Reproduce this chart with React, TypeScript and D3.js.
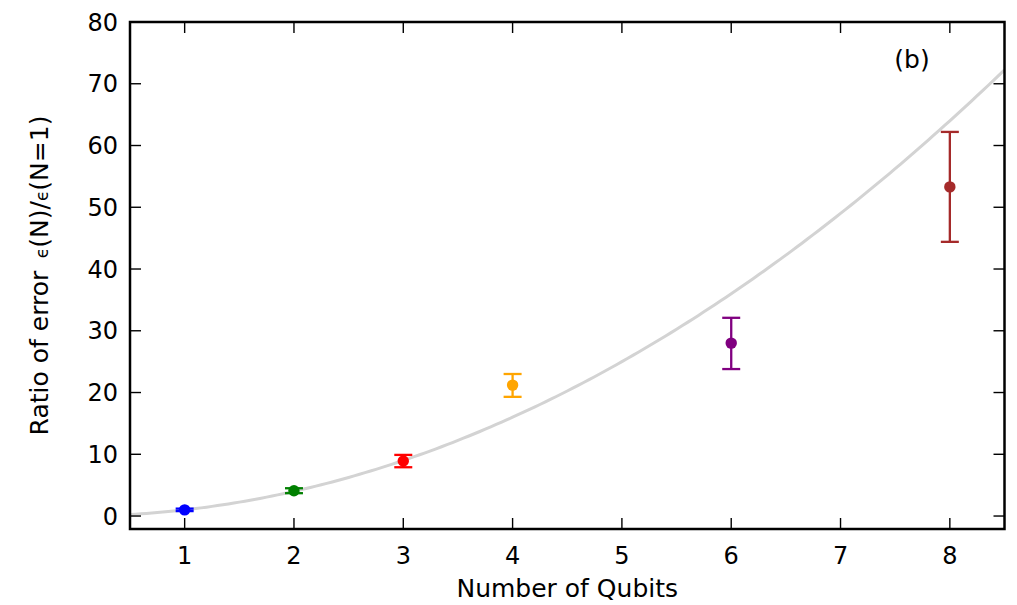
import React from "react";
import * as d3 from "d3";

const qubits = [1, 2, 3, 4, 6, 8];
const ratios = [1.0, 4.1, 8.9, 21.2, 28.0, 53.3];
const errLow = [0.2, 0.4, 1.0, 1.9, 4.2, 8.9];
const errHigh = [0.2, 0.4, 1.0, 1.8, 4.1, 8.9];
const colors = ["blue", "green", "red", "orange", "purple", "brown"];
const xTicks = [1, 2, 3, 4, 5, 6, 7, 8];
const yTicks = [0, 10, 20, 30, 40, 50, 60, 70, 80];

const W = 1017;
const H = 605;
const margin = { left: 130, right: 12.5, top: 22, bottom: 76 };
const font = "DejaVu Sans, sans-serif";

export default function App() {
  const x = d3
    .scaleLinear()
    .domain([0.5, 8.5])
    .range([margin.left, W - margin.right]);
  const y = d3
    .scaleLinear()
    .domain([-2.1, 80])
    .range([H - margin.bottom, margin.top]);

  const curveX = d3.range(0.5, 8.5001, 0.05);
  const line = d3
    .line<number>()
    .x(d => x(d))
    .y(d => y(d * d));

  const [x0, x1] = x.range();
  const [y0, y1] = y.range();
  const tick = 11;

  return (
    <svg
      width={W}
      height={H}
      style={{ position: "absolute", left: 0, top: 0 }}
      fontFamily={font}
    >
      <defs>
        <clipPath id="plot">
          <rect x={x0} y={y1} width={x1 - x0} height={y0 - y1} />
        </clipPath>
      </defs>
      <rect width={W} height={H} fill="white" />
      <path
        d={line(curveX) || ""}
        fill="none"
        stroke="#d3d3d3"
        strokeWidth={3}
        clipPath="url(#plot)"
      />
      {qubits.map((q, i) => {
        const cx = x(q);
        const lo = y(ratios[i] - errLow[i]);
        const hi = y(ratios[i] + errHigh[i]);
        return (
          <g key={q} stroke={colors[i]} fill={colors[i]}>
            <line x1={cx} x2={cx} y1={lo} y2={hi} strokeWidth={2.3} />
            <line x1={cx - 9} x2={cx + 9} y1={lo} y2={lo} strokeWidth={2.3} />
            <line x1={cx - 9} x2={cx + 9} y1={hi} y2={hi} strokeWidth={2.3} />
            <circle cx={cx} cy={y(ratios[i])} r={5.7} stroke="none" />
          </g>
        );
      })}
      {xTicks.map(t => (
        <g key={"x" + t}>
          <line x1={x(t)} x2={x(t)} y1={y0} y2={y0 - tick} stroke="black" strokeWidth={1.4} />
          <line x1={x(t)} x2={x(t)} y1={y1} y2={y1 + tick} stroke="black" strokeWidth={1.4} />
          <text x={x(t)} y={y0 + 35} textAnchor="middle" fontSize={24}>
            {t}
          </text>
        </g>
      ))}
      {yTicks.map(t => (
        <g key={"y" + t}>
          <line x1={x0} x2={x0 + tick} y1={y(t)} y2={y(t)} stroke="black" strokeWidth={1.4} />
          <line x1={x1} x2={x1 - tick} y1={y(t)} y2={y(t)} stroke="black" strokeWidth={1.4} />
          <text x={x0 - 12} y={y(t)} dy="0.36em" textAnchor="end" fontSize={24}>
            {t}
          </text>
        </g>
      ))}
      <rect
        x={x0}
        y={y1}
        width={x1 - x0}
        height={y0 - y1}
        fill="none"
        stroke="black"
        strokeWidth={2.5}
      />
      <text x={912} y={68} textAnchor="middle" fontSize={25}>
        (b)
      </text>
      <text x={(x0 + x1) / 2} y={597} textAnchor="middle" fontSize={25}>
        Number of Qubits
      </text>
      <text
        transform={`translate(48,${(y0 + y1) / 2}) rotate(-90)`}
        textAnchor="middle"
        fontSize={25}
      >
        Ratio of error{"\u2002"}
        <tspan fontSize={17}>ϵ</tspan>(N)/<tspan fontSize={17}>ϵ</tspan>(N=1)
      </text>
    </svg>
  );
}
